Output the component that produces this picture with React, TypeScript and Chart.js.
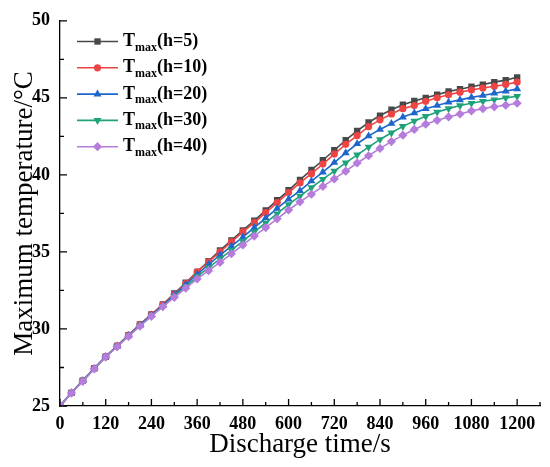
import { useEffect, useRef } from "react";
import { Chart, registerables } from "chart.js";
import type { ChartConfiguration, Plugin } from "chart.js";

Chart.register(...registerables);

const SERIF = "'Liberation Serif', 'Times New Roman', serif";

// discharge time (s)
const times = [
  0, 30, 60, 90, 120, 150, 180, 210, 240, 270, 300, 330, 360, 390, 420, 450,
  480, 510, 540, 570, 600, 630, 660, 690, 720, 750, 780, 810, 840, 870, 900,
  930, 960, 990, 1020, 1050, 1080, 1110, 1140, 1170, 1200,
];

// maximum temperature (°C) for each h
const tmaxH5 = [
  25, 25.85, 26.65, 27.45, 28.2, 28.9, 29.6, 30.3, 30.95, 31.6, 32.3, 33.0,
  33.7, 34.4, 35.1, 35.75, 36.4, 37.03, 37.7, 38.35, 39.0, 39.68, 40.32, 40.95,
  41.6, 42.25, 42.85, 43.4, 43.85, 44.23, 44.55, 44.8, 45.0, 45.2, 45.42, 45.56,
  45.72, 45.86, 46.02, 46.15, 46.33,
];
const tmaxH10 = [
  25, 25.85, 26.65, 27.45, 28.2, 28.9, 29.6, 30.28, 30.93, 31.58, 32.25, 32.95,
  33.7, 34.35, 35.0, 35.65, 36.3, 36.9, 37.55, 38.2, 38.85, 39.48, 40.08, 40.7,
  41.35, 41.98, 42.55, 43.13, 43.57, 43.95, 44.3, 44.5, 44.78, 45.0, 45.2,
  45.37, 45.51, 45.64, 45.75, 45.87, 46.02,
];
const tmaxH20 = [
  25, 25.85, 26.65, 27.43, 28.2, 28.88, 29.57, 30.25, 30.9, 31.52, 32.2, 32.88,
  33.55, 34.18, 34.8, 35.38, 35.96, 36.58, 37.2, 37.82, 38.42, 38.98, 39.6,
  40.18, 40.8, 41.43, 42.02, 42.52, 42.95, 43.33, 43.75, 44.02, 44.29, 44.5,
  44.72, 44.87, 45.03, 45.15, 45.3, 45.43, 45.58,
];
const tmaxH30 = [
  25, 25.85, 26.63, 27.42, 28.18, 28.86, 29.55, 30.22, 30.86, 31.47, 32.12,
  32.75, 33.4, 33.98, 34.55, 35.12, 35.7, 36.3, 36.88, 37.48, 38.08, 38.62,
  39.18, 39.72, 40.25, 40.78, 41.3, 41.8, 42.3, 42.73, 43.15, 43.5, 43.8, 44.08,
  44.3, 44.5, 44.65, 44.78, 44.88, 45.0, 45.1,
];
const tmaxH40 = [
  25, 25.85, 26.6, 27.4, 28.18, 28.85, 29.52, 30.18, 30.82, 31.45, 32.05, 32.65,
  33.25, 33.78, 34.32, 34.88, 35.45, 36.03, 36.58, 37.15, 37.72, 38.25, 38.75,
  39.25, 39.74, 40.24, 40.77, 41.24, 41.72, 42.16, 42.58, 42.95, 43.29, 43.54,
  43.76, 43.95, 44.15, 44.3, 44.42, 44.52, 44.65,
];

const seriesLabels = ["(h=5)", "(h=10)", "(h=20)", "(h=30)", "(h=40)"];
const seriesValues = [tmaxH5, tmaxH10, tmaxH20, tmaxH30, tmaxH40];

const xMajor = [0, 120, 240, 360, 480, 600, 720, 840, 960, 1080, 1200];
const xMinor = [60, 180, 300, 420, 540, 660, 780, 900, 1020, 1140, 1260];
const yMajor = [25, 30, 35, 40, 45, 50];
const yMinor = [27.5, 32.5, 37.5, 42.5, 47.5];

const looks = [
  { color: "#484848", shape: "rect", radius: 4.5, rotation: 0 },
  { color: "#ef4444", shape: "circle", radius: 3.6, rotation: 0 },
  { color: "#1e66cc", shape: "triangle", radius: 4.6, rotation: 0 },
  { color: "#1ea27a", shape: "triangle", radius: 4.6, rotation: 180 },
  { color: "#b67cdc", shape: "rectRot", radius: 4.6, rotation: 0 },
];

function marker(ctx: CanvasRenderingContext2D, shape: string, x: number, y: number, r: number, rot: number) {
  ctx.beginPath();
  if (shape === "rect") {
    const s = r * Math.SQRT1_2;
    ctx.rect(x - s, y - s, 2 * s, 2 * s);
  } else if (shape === "circle") {
    ctx.arc(x, y, r, 0, Math.PI * 2);
  } else if (shape === "triangle") {
    let a = (rot * Math.PI) / 180;
    ctx.moveTo(x + Math.sin(a) * r, y - Math.cos(a) * r);
    a += (2 * Math.PI) / 3;
    ctx.lineTo(x + Math.sin(a) * r, y - Math.cos(a) * r);
    a += (2 * Math.PI) / 3;
    ctx.lineTo(x + Math.sin(a) * r, y - Math.cos(a) * r);
    ctx.closePath();
  } else {
    ctx.moveTo(x, y - r);
    ctx.lineTo(x + r, y);
    ctx.lineTo(x, y + r);
    ctx.lineTo(x - r, y);
    ctx.closePath();
  }
  ctx.fill();
}

// inward tick marks + legend with subscript text
const decorPlugin: Plugin<"line"> = {
  id: "decor",
  afterDraw(chart) {
    const { ctx, chartArea } = chart;
    const xs = chart.scales.x;
    const ys = chart.scales.y;
    ctx.save();
    ctx.strokeStyle = "#000";
    ctx.lineWidth = 1.3;
    ctx.beginPath();
    xMajor.forEach((v) => {
      const p = xs.getPixelForValue(v);
      ctx.moveTo(p, chartArea.bottom);
      ctx.lineTo(p, chartArea.bottom - 7);
    });
    xMinor.forEach((v) => {
      const p = xs.getPixelForValue(v);
      ctx.moveTo(p, chartArea.bottom);
      ctx.lineTo(p, chartArea.bottom - 4);
    });
    yMajor.forEach((v) => {
      const p = ys.getPixelForValue(v);
      ctx.moveTo(chartArea.left, p);
      ctx.lineTo(chartArea.left + 7, p);
    });
    yMinor.forEach((v) => {
      const p = ys.getPixelForValue(v);
      ctx.moveTo(chartArea.left, p);
      ctx.lineTo(chartArea.left + 4, p);
    });
    ctx.stroke();

    // legend
    seriesLabels.forEach((label, i) => {
      const y = 41.5 + i * 26.3;
      const lk = looks[i];
      ctx.strokeStyle = lk.color;
      ctx.fillStyle = lk.color;
      ctx.lineWidth = 1.6;
      ctx.beginPath();
      ctx.moveTo(77, y);
      ctx.lineTo(118, y);
      ctx.stroke();
      marker(ctx, lk.shape, 97.5, y, lk.radius, lk.rotation);

      ctx.fillStyle = "#000";
      ctx.textBaseline = "middle";
      ctx.textAlign = "left";
      ctx.font = `bold 18px ${SERIF}`;
      let x = 123;
      ctx.fillText("T", x, y);
      x += ctx.measureText("T").width;
      ctx.font = `bold 12px ${SERIF}`;
      ctx.fillText("max", x, y + 6);
      x += ctx.measureText("max").width;
      ctx.font = `bold 18px ${SERIF}`;
      ctx.fillText(label, x, y);
    });
    ctx.restore();
  },
};

export default function App() {
  const canvasRef = useRef<HTMLCanvasElement>(null);

  useEffect(() => {
    if (!canvasRef.current) return;

    const config: ChartConfiguration<"line"> = {
      type: "line",
      data: {
        datasets: seriesValues.map((vals, i) => ({
          label: "Tmax" + seriesLabels[i],
          data: times.map((t, k) => ({ x: t, y: vals[k] })),
          borderColor: looks[i].color,
          backgroundColor: looks[i].color,
          borderWidth: 1.6,
          pointStyle: looks[i].shape as any,
          pointRadius: looks[i].radius,
          pointRotation: looks[i].rotation,
          pointBorderWidth: 0,
          tension: 0,
          order: 4 - i,
        })),
      },
      options: {
        animation: false,
        responsive: true,
        maintainAspectRatio: false,
        layout: { padding: { top: 16, right: 10, left: 0, bottom: 0 } },
        plugins: {
          legend: { display: false },
          tooltip: { enabled: false },
        },
        scales: {
          x: {
            type: "linear",
            min: 0,
            max: 1260,
            afterBuildTicks: (s) => {
              s.ticks = xMajor.map((v) => ({ value: v }));
            },
            afterFit: (s) => {
              s.height = 61;
            },
            grid: { display: false, drawTicks: false },
            border: { display: true, color: "#000", width: 1.3 },
            ticks: {
              color: "#000",
              font: { family: SERIF, size: 18, weight: "bold" },
              padding: 8,
              maxRotation: 0,
              autoSkip: false,
              callback: (v) => String(v),
            },
            title: {
              display: true,
              text: "Discharge time/s",
              color: "#000",
              font: { family: SERIF, size: 27 },
              padding: { top: 0, bottom: 6 },
            },
          },
          y: {
            min: 25,
            max: 50,
            afterBuildTicks: (s) => {
              s.ticks = yMajor.map((v) => ({ value: v }));
            },
            afterFit: (s) => {
              s.width = 60;
            },
            grid: { display: false, drawTicks: false },
            border: { display: true, color: "#000", width: 1.3 },
            ticks: {
              color: "#000",
              font: { family: SERIF, size: 18, weight: "bold" },
              padding: 10,
              autoSkip: false,
              callback: (v) => String(v),
            },
            title: {
              display: true,
              text: "Maximum temperature/°C",
              color: "#000",
              font: { family: SERIF, size: 27 },
              padding: { top: 9, bottom: 0 },
            },
          },
        },
      },
      plugins: [decorPlugin],
    };

    const chart = new Chart(canvasRef.current, config);
    return () => {
      chart.destroy();
    };
  }, []);

  return (
    <div style={{ position: "absolute", left: 0, top: 0, width: 550, height: 467, background: "#fff" }}>
      <canvas ref={canvasRef} />
    </div>
  );
}
